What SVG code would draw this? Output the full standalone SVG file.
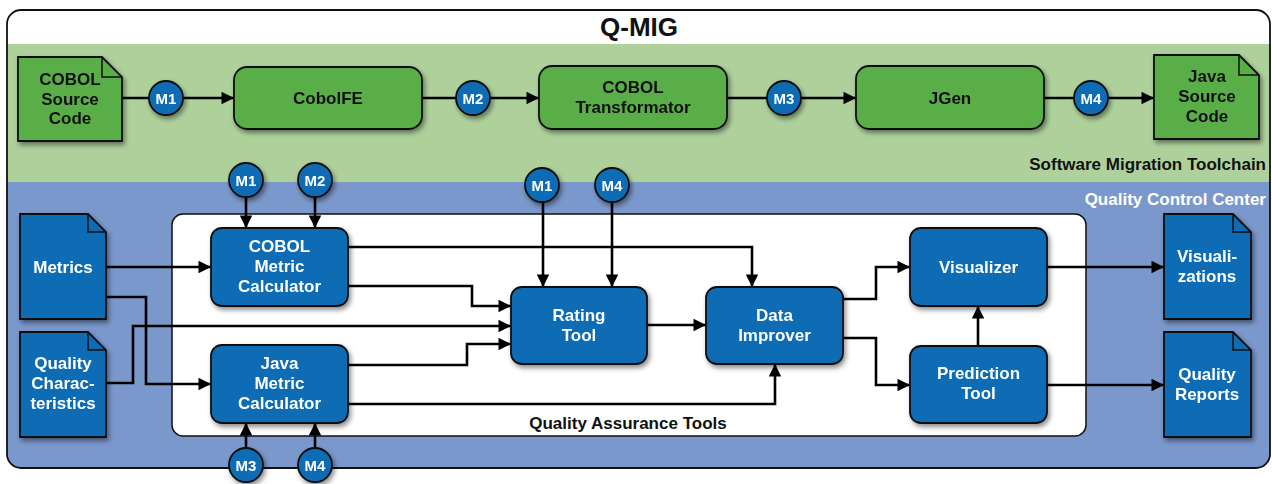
<svg xmlns="http://www.w3.org/2000/svg" width="1272" height="484" viewBox="0 0 1272 484">
<style>
text{font-family:"Liberation Sans",Arial,sans-serif;font-weight:bold;text-anchor:middle}
.g{fill:#5aae47;stroke:#111;stroke-width:1.8}
.b{fill:#0a6cb4;stroke:#111;stroke-width:1.8}
.fold{fill:none;stroke:#111;stroke-width:1.5}
.t{font-size:17px;fill:#111}
.w{font-size:17px;fill:#fff}
.m{font-size:15px;fill:#fff}
.c{fill:none;stroke:#000;stroke-width:2.6;marker-end:url(#ah)}
</style>
<defs>
<marker id="ah" viewBox="0 0 10 10" refX="10" refY="5" markerWidth="5.4" markerHeight="4.8" markerUnits="strokeWidth" orient="auto">
<path d="M0,0 L10,5 L0,10 Z" fill="#000"/>
</marker>
<filter id="sh" x="-20%" y="-20%" width="150%" height="150%">
<feDropShadow dx="2" dy="3" stdDeviation="2.5" flood-color="#000" flood-opacity="0.45"/>
</filter>
<clipPath id="fr"><rect x="7" y="10" width="1263" height="458" rx="14"/></clipPath>
</defs>

<g id="frame">
<rect x="7" y="10" width="1263" height="458" rx="14" fill="#fff"/>
<g clip-path="url(#fr)">
<rect x="0" y="44" width="1272" height="138" fill="#aed19c"/>
<rect x="0" y="182" width="1272" height="300" fill="#7b98cc"/>
</g>
<rect x="7" y="10" width="1263" height="458" rx="14" fill="none" stroke="#111" stroke-width="1.8"/>
<text x="639" y="36" style="font-size:26px" fill="#111">Q-MIG</text>
<text x="1266" y="170" style="font-size:17px;text-anchor:end" fill="#111">Software Migration Toolchain</text>
<text x="1266" y="205" style="font-size:17px;text-anchor:end" fill="#fff">Quality Control Center</text>
</g>

<g id="qa-tools">
<rect x="172" y="214" width="914" height="222" rx="11" fill="#fff" stroke="#111" stroke-width="1.5"/>
<text x="628" y="429" style="font-size:17px" fill="#111">Quality Assurance Tools</text>
</g>

<g id="connectors">
<path class="c" d="M122,98 H234"/>
<path class="c" d="M422,98 H539"/>
<path class="c" d="M727,98 H856"/>
<path class="c" d="M1044,98 H1154"/>
<path class="c" d="M246,197 V228"/>
<path class="c" d="M315,197 V228"/>
<path class="c" d="M246,448 V423"/>
<path class="c" d="M315,448 V423"/>
<path class="c" d="M543,202 V287"/>
<path class="c" d="M612,202 V287"/>
<path class="c" d="M106,267 H211"/>
<path class="c" d="M106,297 H146 V384 H211"/>
<path class="c" d="M106,383 H133 V326 H511"/>
<path class="c" d="M348,247 H752 V287"/>
<path class="c" d="M348,286 H472 V306 H511"/>
<path class="c" d="M348,365 H467 V344 H511"/>
<path class="c" d="M348,404 H775 V364"/>
<path class="c" d="M647,325 H706"/>
<path class="c" d="M843,299 H876 V267 H910"/>
<path class="c" d="M843,338 H876 V385 H910"/>
<path class="c" d="M978,346 V306"/>
<path class="c" d="M1047,267 H1164"/>
<path class="c" d="M1047,385 H1164"/>
</g>

<g id="cobol-source" filter="url(#sh)">
<path class="g" d="M18,57 H102 L122,77 V141 H18 Z"/>
<path class="fold" d="M102,57 V77 H122"/>
<text class="t" x="70" y="85">COBOL</text>
<text class="t" x="70" y="105">Source</text>
<text class="t" x="70" y="124">Code</text>
</g>
<g id="cobolfe" filter="url(#sh)">
<rect class="g" x="234" y="67" width="188" height="62" rx="13"/>
<text class="t" x="328" y="104">CobolFE</text>
</g>
<g id="cobol-transformator" filter="url(#sh)">
<rect class="g" x="539" y="66" width="188" height="63" rx="13"/>
<text class="t" x="633" y="93">COBOL</text>
<text class="t" x="633" y="113">Transformator</text>
</g>
<g id="jgen" filter="url(#sh)">
<rect class="g" x="856" y="66" width="188" height="63" rx="13"/>
<text class="t" x="950" y="104">JGen</text>
</g>
<g id="java-source" filter="url(#sh)">
<path class="g" d="M1154,55 H1239 L1259,75 V139 H1154 Z"/>
<path class="fold" d="M1239,55 V75 H1259"/>
<text class="t" x="1207" y="82">Java</text>
<text class="t" x="1207" y="102">Source</text>
<text class="t" x="1207" y="122">Code</text>
</g>

<g id="m-top" filter="url(#sh)">
<circle class="b" cx="166" cy="98" r="17"/><text class="m" x="166" y="103.5">M1</text>
<circle class="b" cx="473" cy="98" r="17"/><text class="m" x="473" y="103.5">M2</text>
<circle class="b" cx="784" cy="98" r="17"/><text class="m" x="784" y="103.5">M3</text>
<circle class="b" cx="1091" cy="98" r="17"/><text class="m" x="1091" y="103.5">M4</text>
</g>
<g id="m-metric" filter="url(#sh)">
<circle class="b" cx="246" cy="180" r="17"/><text class="m" x="246" y="185.5">M1</text>
<circle class="b" cx="315" cy="180" r="17"/><text class="m" x="315" y="185.5">M2</text>
<circle class="b" cx="246" cy="465" r="17"/><text class="m" x="246" y="470.5">M3</text>
<circle class="b" cx="315" cy="465" r="17"/><text class="m" x="315" y="470.5">M4</text>
<circle class="b" cx="542" cy="185" r="17"/><text class="m" x="542" y="190.5">M1</text>
<circle class="b" cx="612" cy="185" r="17"/><text class="m" x="612" y="190.5">M4</text>
</g>

<g id="metrics" filter="url(#sh)">
<path class="b" d="M20,214 H88 L106,232 V319 H20 Z"/>
<path class="fold" d="M88,214 V232 H106"/>
<text class="w" x="63" y="273">Metrics</text>
</g>
<g id="quality-characteristics" filter="url(#sh)">
<path class="b" d="M20,332 H88 L106,350 V437 H20 Z"/>
<path class="fold" d="M88,332 V350 H106"/>
<text class="w" x="63" y="369">Quality</text>
<text class="w" x="63" y="389">Charac-</text>
<text class="w" x="63" y="409">teristics</text>
</g>
<g id="cobol-metric-calculator" filter="url(#sh)">
<rect class="b" x="211" y="228" width="137" height="78" rx="11"/>
<text class="w" x="279.5" y="252">COBOL</text>
<text class="w" x="279.5" y="272">Metric</text>
<text class="w" x="279.5" y="292">Calculator</text>
</g>
<g id="java-metric-calculator" filter="url(#sh)">
<rect class="b" x="211" y="345" width="137" height="78" rx="11"/>
<text class="w" x="279.5" y="369">Java</text>
<text class="w" x="279.5" y="389">Metric</text>
<text class="w" x="279.5" y="409">Calculator</text>
</g>
<g id="rating-tool" filter="url(#sh)">
<rect class="b" x="511" y="287" width="136" height="77" rx="11"/>
<text class="w" x="579" y="321">Rating</text>
<text class="w" x="579" y="341">Tool</text>
</g>
<g id="data-improver" filter="url(#sh)">
<rect class="b" x="706" y="287" width="137" height="77" rx="11"/>
<text class="w" x="774.5" y="321">Data</text>
<text class="w" x="774.5" y="341">Improver</text>
</g>
<g id="visualizer" filter="url(#sh)">
<rect class="b" x="910" y="228" width="137" height="78" rx="11"/>
<text class="w" x="978.5" y="273">Visualizer</text>
</g>
<g id="prediction-tool" filter="url(#sh)">
<rect class="b" x="910" y="346" width="137" height="77" rx="11"/>
<text class="w" x="978.5" y="379">Prediction</text>
<text class="w" x="978.5" y="399">Tool</text>
</g>
<g id="visualizations" filter="url(#sh)">
<path class="b" d="M1164,214 H1233 L1251,232 V319 H1164 Z"/>
<path class="fold" d="M1233,214 V232 H1251"/>
<text class="w" x="1207" y="262">Visuali-</text>
<text class="w" x="1207" y="282">zations</text>
</g>
<g id="quality-reports" filter="url(#sh)">
<path class="b" d="M1164,332 H1233 L1251,350 V437 H1164 Z"/>
<path class="fold" d="M1233,332 V350 H1251"/>
<text class="w" x="1207" y="380">Quality</text>
<text class="w" x="1207" y="400">Reports</text>
</g>
</svg>
